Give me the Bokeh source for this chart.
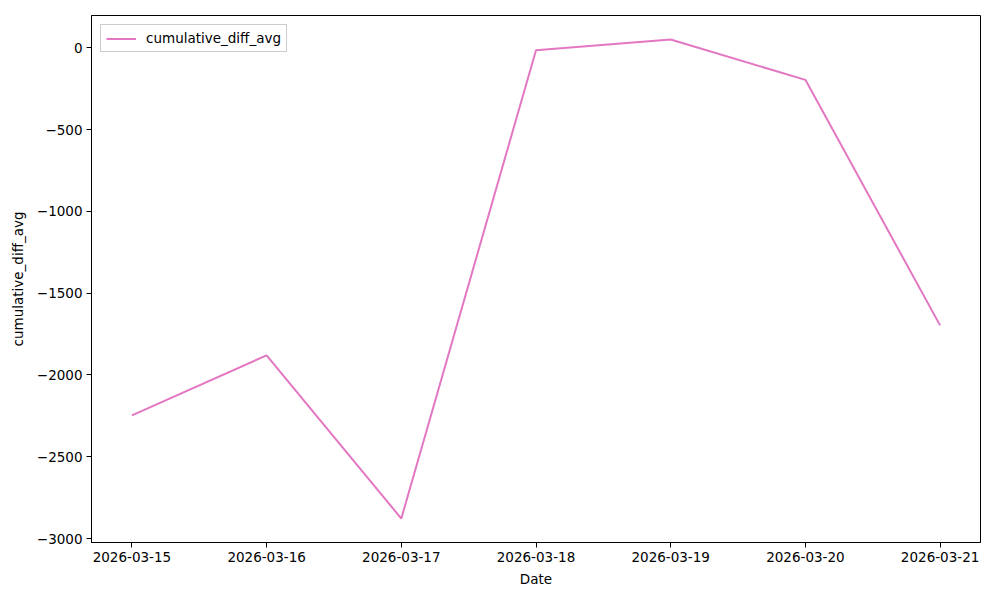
import pandas as pd
from bokeh.plotting import figure
from bokeh.models import (ColumnDataSource, FixedTicker, DatetimeTickFormatter,
                          CustomJSTickFormatter, Legend, LegendItem, Range1d)
from bokeh.embed import file_html
from bokeh.resources import INLINE

dates = ["2026-03-15", "2026-03-16", "2026-03-17", "2026-03-18",
         "2026-03-19", "2026-03-20", "2026-03-21"]
cumulative_diff_avg = [-2247, -1880, -2878, -15, 51, -196, -1697]
y_ticks = [-3000, -2500, -2000, -1500, -1000, -500, 0]

x = pd.to_datetime(dates)
src = ColumnDataSource(dict(x=x, y=cumulative_diff_avg))

FONT = "DejaVu Sans"
FS = "13.5px"

x0 = x.min().value // 10**6
x1 = x.max().value // 10**6
pad_x = (x1 - x0) * 0.05
ymin, ymax = min(cumulative_diff_avg), max(cumulative_diff_avg)
pad_y = (ymax - ymin) * 0.05

p = figure(frame_width=889, frame_height=527, x_axis_type="datetime",
           output_backend="svg", toolbar_location=None,
           min_border_left=91, min_border_top=15, min_border_right=10,
           min_border_bottom=42,
           x_range=Range1d(x0 - pad_x, x1 + pad_x),
           y_range=Range1d(ymin - pad_y, ymax + pad_y))

r = p.line("x", "y", source=src, line_color="#e377c2", line_width=2)

p.grid.visible = False
p.outline_line_color = "black"
p.outline_line_alpha = 1
p.outline_line_width = 1
p.background_fill_color = "white"
p.border_fill_color = "white"

p.xaxis.ticker = FixedTicker(ticks=[t.value // 10**6 for t in x])
p.xaxis.formatter = DatetimeTickFormatter(days="%Y-%m-%d", months="%Y-%m-%d",
                                          hours="%Y-%m-%d")
p.yaxis.ticker = FixedTicker(ticks=y_ticks)
p.yaxis.formatter = CustomJSTickFormatter(
    code="return (tick < 0 ? '\u2212' + Math.abs(tick) : '' + tick);")

for ax in (p.xaxis[0], p.yaxis[0]):
    ax.axis_line_color = "black"
    ax.major_tick_line_color = "black"
    ax.major_tick_out = 5
    ax.major_tick_in = 0
    ax.minor_tick_line_color = None
    ax.major_label_text_font = FONT
    ax.major_label_text_font_size = FS
    ax.major_label_text_color = "black"
    ax.axis_label_text_font = FONT
    ax.axis_label_text_font_size = FS
    ax.axis_label_text_font_style = "normal"
    ax.axis_label_text_color = "black"

p.xaxis.axis_label = "Date"
p.yaxis.axis_label = "cumulative_diff_avg"
p.xaxis.major_label_standoff = 4
p.xaxis.axis_label_standoff = 6
p.yaxis.major_label_standoff = 4
p.yaxis.axis_label_standoff = 8

legend = Legend(items=[LegendItem(label="cumulative_diff_avg", renderers=[r])],
                location="top_left")
legend.label_text_font = FONT
legend.label_text_font_size = FS
legend.label_text_color = "black"
legend.border_line_color = "#cccccc"
legend.border_line_alpha = 1
legend.background_fill_alpha = 0.8
legend.margin = 9
legend.padding = 5
legend.spacing = 0
legend.glyph_width = 30
legend.glyph_height = 15
legend.label_height = 15
legend.label_standoff = 10
p.add_layout(legend)

open("out.html", "w").write(file_html(p, INLINE))
